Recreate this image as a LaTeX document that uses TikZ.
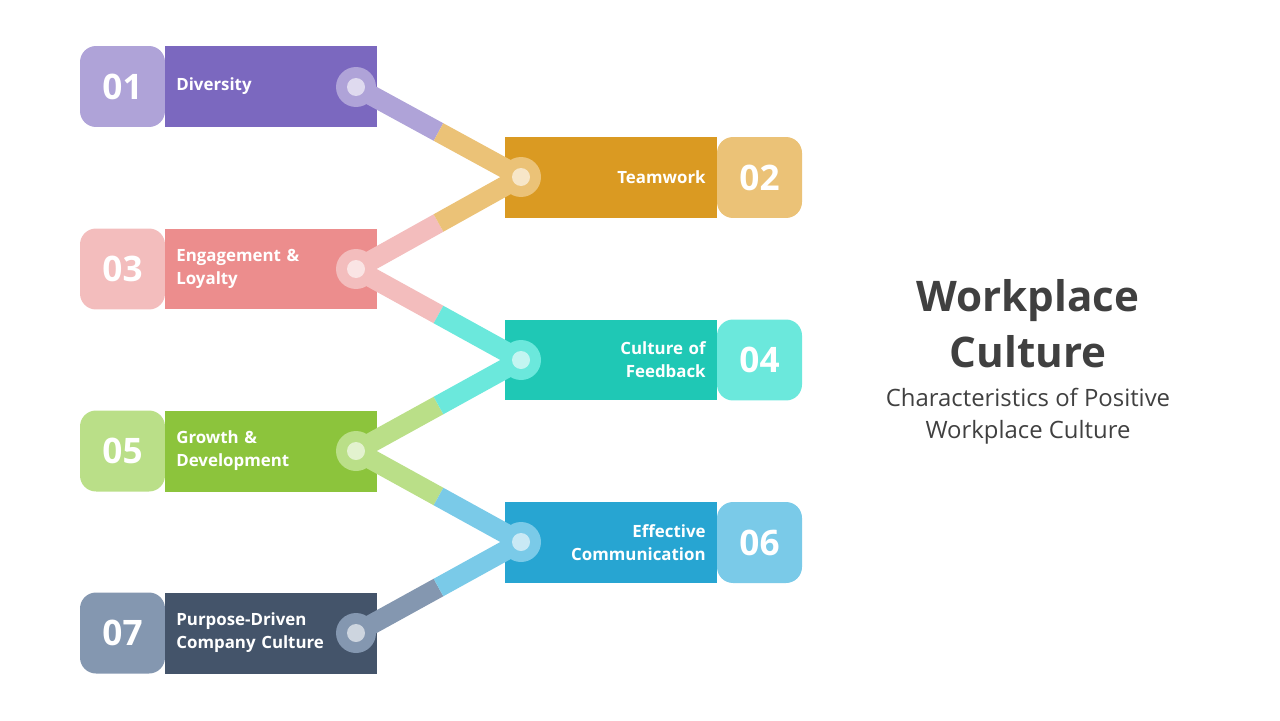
\documentclass[tikz,border=0pt]{standalone}
\usepackage{fontspec}
\setmainfont{Open Sans}
\usetikzlibrary{calc}
\definecolor{c1d}{HTML}{7B68BF}\definecolor{c1l}{HTML}{AFA3D8}
\definecolor{c2d}{HTML}{DA9A22}\definecolor{c2l}{HTML}{EBC277}
\definecolor{c3d}{HTML}{EC8D8D}\definecolor{c3l}{HTML}{F3BDBD}
\definecolor{c4d}{HTML}{1FC8B5}\definecolor{c4l}{HTML}{6BE8DC}
\definecolor{c5d}{HTML}{8CC43C}\definecolor{c5l}{HTML}{BADF88}
\definecolor{c6d}{HTML}{27A5D2}\definecolor{c6l}{HTML}{7ACAE8}
\definecolor{c7d}{HTML}{44546A}\definecolor{c7l}{HTML}{8497B0}
\definecolor{ink}{HTML}{404040}
\tikzset{
  numbox/.style={minimum width=1.7cm, minimum height=1.62cm, rounded corners=0.32cm,
    text=white, font=\bfseries\fontsize{20}{22}\selectfont, inner sep=0pt},
  labL/.style={minimum width=4.24cm, minimum height=1.62cm, inner xsep=0.22cm,
    text width=3.8cm, align=left, text=white, font=\bfseries\fontsize{9.6}{13}\selectfont},
  labR/.style={labL, align=right},
  knob/.style={circle, minimum size=0.8cm, inner sep=0pt},
  dot/.style={circle, minimum size=0.36cm, inner sep=0pt, fill=white, fill opacity=0.6},
  band/.style={line width=0.4cm}
}
\begin{document}
\begin{tikzpicture}[x=0.02cm, y=-0.02cm]
\useasboundingbox (0,0) rectangle (1280,720);
% left side
\node[numbox, fill=c1l] (n1) at (122.5,86.5) {01};
\node[numbox, fill=c3l] (n3) at (122.5,269) {03};
\node[numbox, fill=c5l] (n5) at (122.5,451) {05};
\node[numbox, fill=c7l] (n7) at (122.5,633) {07};
\node[labL, fill=c1d, anchor=west] (l1) at (165,86.5) {Diversity};
\node[labL, fill=c3d, anchor=west] (l3) at (165,269) {Engagement \&\\Loyalty};
\node[labL, fill=c5d, anchor=west] (l5) at (165,451) {Growth \&\\Development};
\node[labL, fill=c7d, anchor=west] (l7) at (165,633) {Purpose-Driven\\Company Culture};
% right side
\node[numbox, fill=c2l] (n2) at (759.5,177.5) {02};
\node[numbox, fill=c4l] (n4) at (759.5,360) {04};
\node[numbox, fill=c6l] (n6) at (759.5,542.5) {06};
\node[labR, fill=c2d, anchor=east] (l2) at (717,177.5) {Teamwork};
\node[labR, fill=c4d, anchor=east] (l4) at (717,360) {Culture of\\Feedback};
\node[labR, fill=c6d, anchor=east] (l6) at (717,542.5) {Effective\\Communication};
% knobs
\node[knob] (k1) at (356,87) {};
\node[knob] (k2) at (521,177) {};
\node[knob] (k3) at (356,269) {};
\node[knob] (k4) at (521,360) {};
\node[knob] (k5) at (356,451) {};
\node[knob] (k6) at (521,542) {};
\node[knob] (k7) at (356,633) {};
% bands
\foreach \a/\b/\ca/\cb in {1/2/c1l/c2l, 3/2/c3l/c2l, 3/4/c3l/c4l, 5/4/c5l/c4l, 5/6/c5l/c6l, 7/6/c7l/c6l} {
  \draw[band, \ca] (k\a.center) -- ($(k\a)!0.5!(k\b)$);
  \draw[band, \cb] ($(k\a)!0.5!(k\b)$) -- (k\b.center);
}
\foreach \k/\c in {1/c1l, 2/c2l, 3/c3l, 4/c4l, 5/c5l, 6/c6l, 7/c7l} {
  \fill[\c] (k\k) circle (0.4cm);
  \node[dot] at (k\k) {};
}
% title
\node[text=ink, font=\bfseries\fontsize{24}{32}\selectfont, align=center] (title) at (1028,324) {Workplace\\Culture};
\node[text=ink, font=\fontsize{13.6}{18}\selectfont, align=center, below=0.15cm] (sub) at (title.south) {Characteristics of Positive\\Workplace Culture};
\end{tikzpicture}
\end{document}
